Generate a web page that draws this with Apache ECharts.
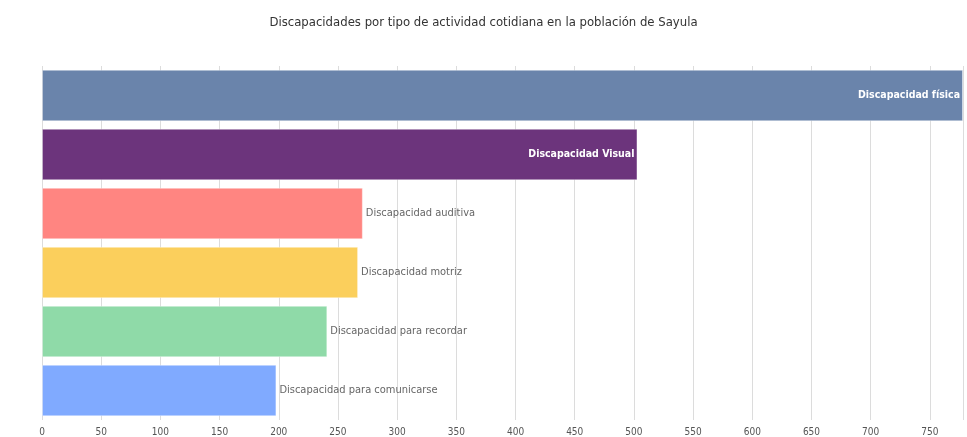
<!DOCTYPE html>
<html>
<head>
<meta charset="utf-8">
<script src="https://cdn.jsdelivr.net/npm/echarts@6/dist/echarts.min.js"></script>
<style>
  html, body { margin: 0; padding: 0; background: #fff; }
  #chart { width: 967px; height: 437px; }
</style>
</head>
<body>
<div id="chart"></div>
<script>
const FONT = '"DejaVu Sans Condensed", Roboto, sans-serif'

const categories = [
  'Discapacidad física',
  'Discapacidad Visual',
  'Discapacidad auditiva',
  'Discapacidad motriz',
  'Discapacidad para recordar',
  'Discapacidad para comunicarse'
]
const values = [778, 503, 271, 267, 241, 198]
const palette = ['#6a84ab', '#6c347c', '#ff8581', '#fbcf5c', '#8fdaa8', '#80aaff']

const chart = echarts.init(document.getElementById('chart'))

const barData = values.map((v, i) => {
  const inside = v > 400
  return {
    value: v,
    itemStyle: { color: palette[i] },
    label: inside
      ? { position: 'insideRight', color: '#fff', fontWeight: 'bold', fontSize: 10.5 }
      : { position: 'right', color: '#666', fontWeight: 'normal' }
  }
})

chart.setOption({
  animation: false,
  title: {
    text: 'Discapacidades por tipo de actividad cotidiana en la población de Sayula',
    left: 'center',
    top: 11,
    textStyle: { fontFamily: FONT, fontSize: 13, fontWeight: 'normal', color: '#333' }
  },
  grid: { left: 42, right: 4, top: 66, bottom: 17, containLabel: false },
  xAxis: {
    type: 'value',
    min: 0,
    max: 778,
    interval: 50,
    axisLine: { show: false },
    axisTick: { show: false },
    axisLabel: { fontFamily: FONT, fontSize: 10, color: '#555', margin: 7, showMaxLabel: false },
    splitLine: { lineStyle: { color: '#dcdcdc', width: 1 } }
  },
  yAxis: {
    type: 'category',
    data: categories,
    inverse: true,
    axisLine: { show: false },
    axisTick: { show: false },
    axisLabel: { show: false }
  },
  series: [{
    type: 'bar',
    data: barData,
    barCategoryGap: '13%',
    itemStyle: { borderColor: 'rgba(255,255,255,0.35)', borderWidth: 1 },
    label: {
      show: true,
      formatter: p => categories[p.dataIndex],
      fontFamily: FONT,
      fontSize: 11,
      distance: 3
    }
  }]
})
</script>
</body>
</html>
